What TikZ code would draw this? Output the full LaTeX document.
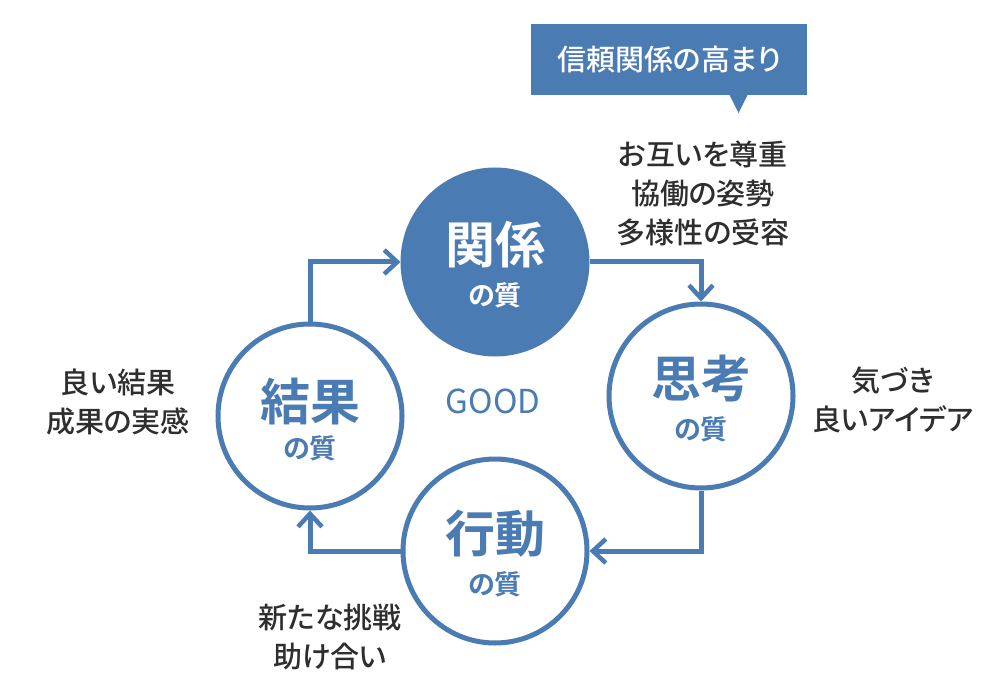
\documentclass[tikz,border=0pt]{standalone}
\usepackage{fontspec}
\newfontfamily\jp[RawFeature=+palt]{Noto Sans CJK JP Medium}
\newfontfamily\jpb[RawFeature=+palt]{Noto Sans CJK JP Bold}
\newfontfamily\jpr{Noto Sans CJK JP}
\usetikzlibrary{arrows.meta}
\definecolor{qblue}{RGB}{74,123,178}
\definecolor{qtext}{RGB}{46,46,46}
\begin{document}
\begin{tikzpicture}[x=1pt,y=-1pt,
  ring/.style={circle, draw=qblue, line width=5pt, minimum size=184pt, inner sep=0pt},
  hub/.style={ring, fill=qblue},
  flow/.style={draw=qblue, line width=5pt, -{Straight Barb[length=13pt,width=24pt,line width=4.5pt]}},
  bigtxt/.style={font=\jpb\fontsize{50}{56}\selectfont, inner sep=0pt},
  smalltxt/.style={font=\jpb\fontsize{27}{30}\selectfont, inner sep=0pt},
  note/.style={font=\jp\fontsize{29}{39}\selectfont, text=qtext, align=center, inner sep=0pt},
]
\useasboundingbox (0,0) rectangle (1000,700);
\fill[white] (0,0) rectangle (1000,700);

% callout
\node (callout) [fill=qblue, minimum width=276pt, minimum height=71pt, inner sep=0pt,
  text=white, font=\jp\fontsize{29}{32}\selectfont] at (669,59.5) {信頼関係の高まり};
\fill[qblue] (729,94) -- (748,94) -- (738.5,113) -- cycle;

% circles
\node (top) [hub] at (495,262) {};
\node (right) [ring] at (701,396) {};
\node (bottom) [ring] at (495,551) {};
\node (left) [ring] at (310,416) {};

\node (topA) [bigtxt, text=white, yshift=17pt] at (top) {関係};
\node (topB) [smalltxt, text=white, yshift=-33pt] at (top) {の質};
\node (rightA) [bigtxt, text=qblue, yshift=17pt] at (right) {思考};
\node (rightB) [smalltxt, text=qblue, yshift=-33pt] at (right) {の質};
\node (bottomA) [bigtxt, text=qblue, yshift=17pt] at (bottom) {行動};
\node (bottomB) [smalltxt, text=qblue, yshift=-33pt] at (bottom) {の質};
\node (leftA) [bigtxt, text=qblue, yshift=15pt] at (left) {結果};
\node (leftB) [smalltxt, text=qblue, yshift=-32pt] at (left) {の質};

\node (good) [font=\jpr\fontsize{33}{36}\selectfont, text=qblue, inner sep=0pt] at (493,401) {GOOD};

% connectors
\draw[flow] (top.east) -| (right.north);
\draw[flow] (right.south) |- (bottom.east);
\draw[flow] (bottom.west) -| (left.south);
\draw[flow] (left.north) |- (top.west);

% notes
\node (noteTop) [note] at (703,193) {お互いを尊重\\協働の姿勢\\多様性の受容};
\node (noteLeft) [note] at (118,402) {良い結果\\成果の実感};
\node (noteRight) [note] at (893,400) {気づき\\良いアイデア};
\node (noteBottom) [note] at (330,637) {新たな挑戦\\助け合い};
\end{tikzpicture}
\end{document}
